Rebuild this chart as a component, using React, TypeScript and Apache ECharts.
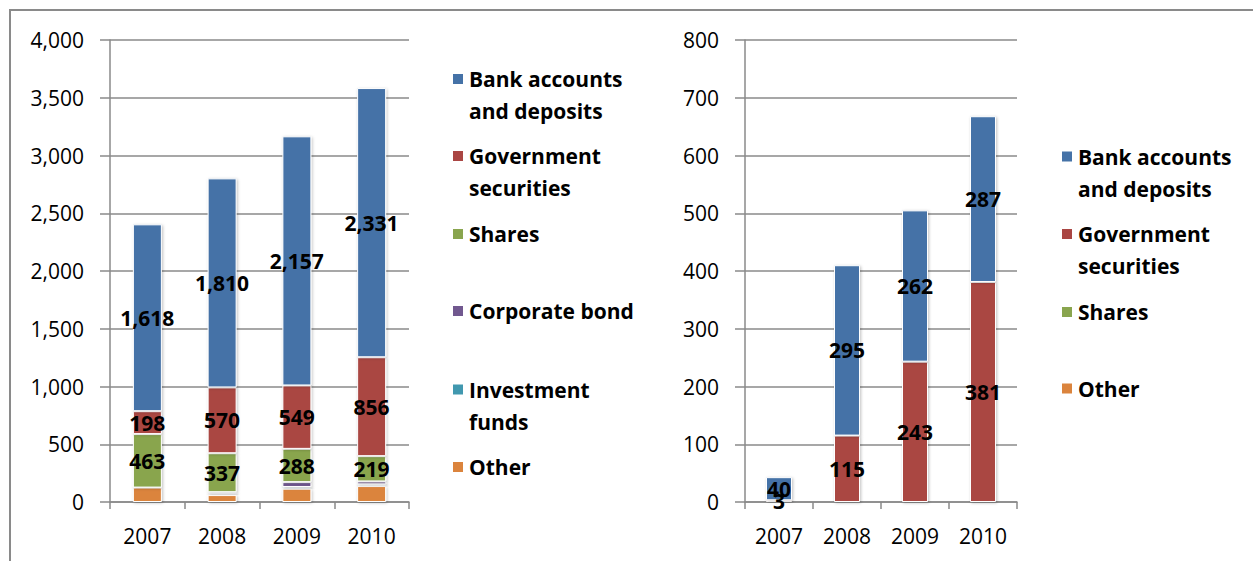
import React, { useEffect, useRef } from 'react';
import * as echarts from 'echarts';

const years = ['2007', '2008', '2009', '2010'];

const leftBank = [1618, 1810, 2157, 2331];
const leftGov = [198, 570, 549, 856];
const leftShares = [463, 337, 288, 219];
const leftCorp = [0, 15, 42, 25];
const leftInvest = [0, 10, 15, 15];
const leftOther = [125, 60, 115, 138];

const rightBank = [40, 295, 262, 287];
const rightGov = [3, 115, 243, 381];
const rightShares = [0, 0, 0, 0];
const rightOther = [0, 0, 0, 0];

const leftMax = 4000;
const leftInterval = 500;
const rightMax = 800;
const rightInterval = 100;

const NAMES = {
  bank: 'Bank accounts and deposits',
  gov: 'Government securities',
  shares: 'Shares',
  corp: 'Corporate bond',
  invest: 'Investment funds',
  other: 'Other',
};
const DISPLAY: Record<string, string> = {
  'Bank accounts and deposits': 'Bank accounts\nand deposits',
  'Government securities': 'Government\nsecurities',
  'Shares': 'Shares',
  'Corporate bond': 'Corporate bond',
  'Investment funds': 'Investment\nfunds',
  'Other': 'Other',
};
const COLORS: Record<string, string> = {
  bank: '#4572A7',
  gov: '#AA4643',
  shares: '#89A54E',
  corp: '#71588F',
  invest: '#4198AF',
  other: '#DB843D',
};

const FONT = "'Open Sans', 'DejaVu Sans', sans-serif";
const GRID_COLOR = '#8a8a8a';

function fmt(v: number) {
  return v.toLocaleString('en-US');
}

export default function App() {
  const ref = useRef<HTMLDivElement>(null);

  useEffect(() => {
    if (!ref.current) return;
    const chart = echarts.init(ref.current, null, { renderer: 'svg' });

    const mkSeries = (key: string, data: number[], idx: number, stack: string, withLabel: boolean, barWidth: number) => ({
      type: 'bar',
      name: (NAMES as any)[key],
      xAxisIndex: idx,
      yAxisIndex: idx,
      stack,
      barWidth,
      data,
      itemStyle: {
        color: COLORS[key],
        borderColor: '#ffffff',
        borderWidth: 1,
        shadowBlur: 3,
        shadowColor: 'rgba(0,0,0,0.25)',
        shadowOffsetX: 1,
        shadowOffsetY: 1,
      },
      label: {
        show: withLabel,
        position: 'inside',
        fontFamily: FONT,
        fontWeight: 'bold',
        fontSize: 21,
        color: '#000',
        formatter: (p: any) => (p.value ? fmt(Number(p.value)) : ''),
      },
      emphasis: { disabled: true },
    });

    const axisLabelStyle = { fontFamily: FONT, fontSize: 21, color: '#000' };

    const mkX = (gridIndex: number) => ({
      type: 'category',
      gridIndex,
      data: years,
      axisLine: { show: true, lineStyle: { color: GRID_COLOR, width: 1.5 } },
      axisTick: { show: true, alignWithLabel: false, length: 7, lineStyle: { color: GRID_COLOR, width: 1.5 } },
      axisLabel: { ...axisLabelStyle, margin: 23 },
      splitLine: { show: false },
    });
    const mkY = (gridIndex: number, max: number, interval: number) => ({
      type: 'value',
      gridIndex,
      min: 0,
      max,
      interval,
      axisLine: { show: true, lineStyle: { color: GRID_COLOR, width: 1.5 } },
      axisTick: { show: true, length: 10, lineStyle: { color: GRID_COLOR, width: 1.5 } },
      axisLabel: { ...axisLabelStyle, margin: 26, formatter: (v: number) => fmt(v) },
      splitLine: { show: true, lineStyle: { color: GRID_COLOR, width: 1.5 } },
    });

    const legendItems = [
      { key: 'bank', x: 451, y: 79 },
      { key: 'gov', x: 451, y: 156 },
      { key: 'shares', x: 451, y: 234 },
      { key: 'corp', x: 451, y: 311 },
      { key: 'invest', x: 451, y: 389.5 },
      { key: 'other', x: 451, y: 467 },
      { key: 'bank', x: 1060, y: 156.5 },
      { key: 'gov', x: 1060, y: 234 },
      { key: 'shares', x: 1060, y: 312 },
      { key: 'other', x: 1060, y: 388.5 },
    ];

    const legends = legendItems.map((it) => {
      const name = (NAMES as any)[it.key];
      const twoLine = DISPLAY[name].includes('\n');
      return {
        data: [name],
        left: it.x,
        top: twoLine ? it.y - 48 : it.y - 16,
        orient: 'vertical',
        icon: 'rect',
        itemWidth: 12,
        itemHeight: 12,
        padding: 0,
        selectedMode: false,
        // leading empty line keeps the marker level with the first text line
        formatter: (n: string) => (DISPLAY[n].includes('\n') ? '\n' + DISPLAY[n] : DISPLAY[n]),
        textStyle: {
          fontFamily: FONT,
          fontWeight: 'bold',
          fontSize: 21,
          color: '#000',
          lineHeight: 32,
        },
      };
    });

    chart.setOption({
      animation: false,
      backgroundColor: '#ffffff',
      grid: [
        { left: 110, top: 40, width: 299, height: 462 },
        { left: 745, top: 40, width: 272, height: 462 },
      ],
      xAxis: [mkX(0), mkX(1)],
      yAxis: [mkY(0, leftMax, leftInterval), mkY(1, rightMax, rightInterval)],
      legend: legends,
      graphic: [
        {
          type: 'rect',
          shape: { x: 10, y: 10, width: 1300, height: 600 },
          style: { fill: 'none', stroke: '#8a8a8a', lineWidth: 2 },
          silent: true,
          z: -1,
        },
      ],
      series: [
        mkSeries('other', leftOther, 0, 'L', false, 29),
        mkSeries('invest', leftInvest, 0, 'L', false, 29),
        mkSeries('corp', leftCorp, 0, 'L', false, 29),
        mkSeries('shares', leftShares, 0, 'L', true, 29),
        mkSeries('gov', leftGov, 0, 'L', true, 29),
        mkSeries('bank', leftBank, 0, 'L', true, 29),
        mkSeries('other', rightOther, 1, 'R', false, 26),
        mkSeries('shares', rightShares, 1, 'R', false, 26),
        mkSeries('gov', rightGov, 1, 'R', true, 26),
        mkSeries('bank', rightBank, 1, 'R', true, 26),
      ],
    });

    return () => chart.dispose();
  }, []);

  return (
    <div
      ref={ref}
      style={{ position: 'fixed', left: 0, top: 0, width: 1253, height: 561, background: '#fff' }}
    />
  );
}
